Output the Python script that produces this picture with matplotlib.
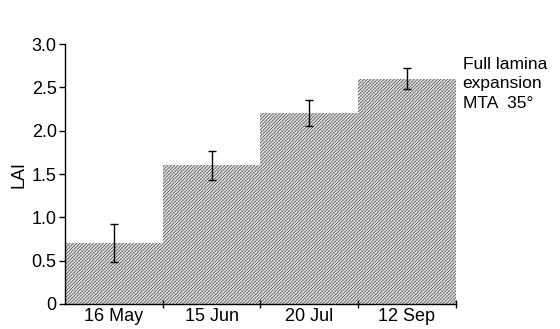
import matplotlib
matplotlib.use('Agg')
import matplotlib.pyplot as plt

plt.rcParams['font.family'] = ['Liberation Sans', 'DejaVu Sans']
plt.rcParams['hatch.linewidth'] = 0.5

dates = ['16 May', '15 Jun', '20 Jul', '12 Sep']
lai = [0.7, 1.6, 2.2, 2.6]
lai_err = [0.22, 0.17, 0.15, 0.12]

fig = plt.figure(figsize=(5.6, 3.29), dpi=100)
ax = fig.add_axes([0.116, 0.076, 0.698, 0.79])

pos = [i + 0.5 for i in range(len(dates))]
ax.bar(pos, lai, width=1.0, color='#dedede', edgecolor='#4a4a4a',
       linewidth=0, hatch='/' * 10)
ax.errorbar(pos, lai, yerr=lai_err, fmt='none', ecolor='black',
            elinewidth=1, capsize=3, capthick=1)

ax.set_xlim(0, 4)
ax.set_ylim(0, 3.0)
ax.set_yticks([0, 0.5, 1.0, 1.5, 2.0, 2.5, 3.0])
ax.set_yticklabels(['0', '0.5', '1.0', '1.5', '2.0', '2.5', '3.0'])
ax.set_xticks(pos)
ax.set_xticklabels(dates)
ax.set_xticks([1, 2, 3, 4], minor=True)
ax.tick_params(axis='x', which='major', length=0, pad=3, labelsize=13)
ax.tick_params(axis='x', which='minor', length=6, direction='inout', width=1)
ax.tick_params(axis='y', length=4, width=1, labelsize=13, pad=2)
ax.set_ylabel('LAI', fontsize=13, labelpad=3)

for s in ['top', 'right']:
    ax.spines[s].set_visible(False)
for s in ['left', 'bottom']:
    ax.spines[s].set_linewidth(1)

ax.text(4.07, 2.54, 'Full lamina\nexpansion\nMTA  35\u00b0', fontsize=12.5,
        va='center', ha='left', linespacing=1.35, clip_on=False)

fig.savefig('out.png', dpi=100)
